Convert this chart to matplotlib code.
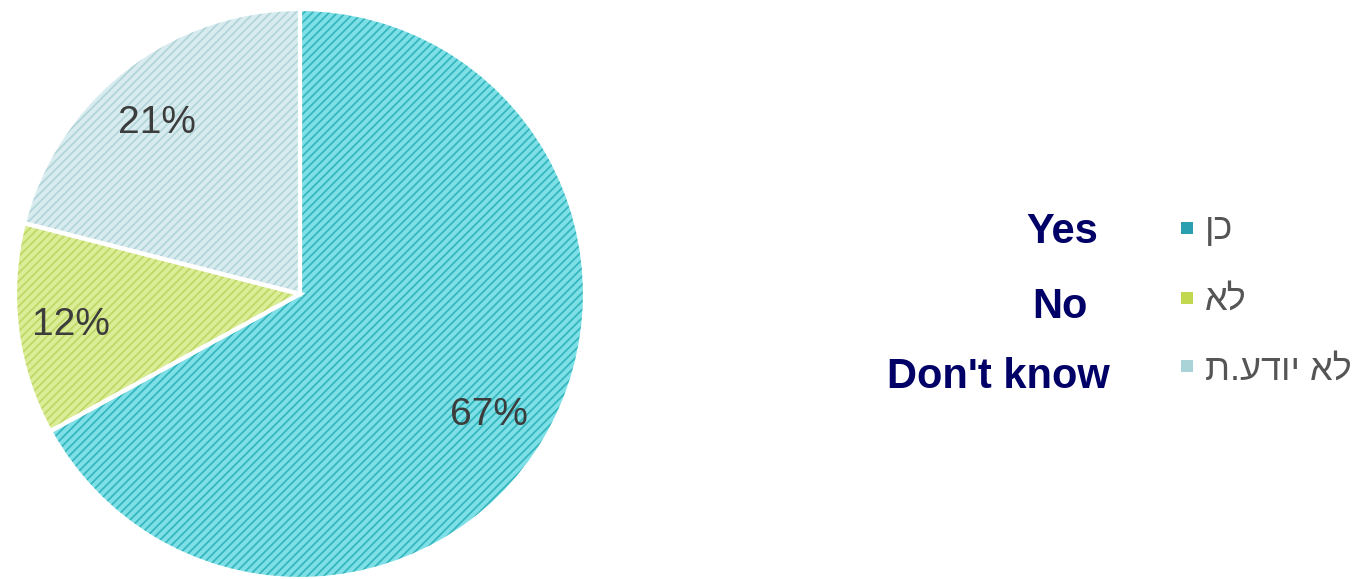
import matplotlib
matplotlib.use("Agg")
import matplotlib.pyplot as plt
from matplotlib.patches import Rectangle

# Survey answers
categories_en = ["Yes", "No", "Don't know"]
categories_he = ["כן", "לא", "לא יודע.ת"]
shares = [67, 12, 21]
pct_labels = ["67%", "12%", "21%"]

face_colors = ["#7ee0e6", "#dbed96", "#d8ecef"]
hatch_colors = ["#36b6be", "#bfd868", "#b3d5da"]
swatch_colors = ["#2a9fb0", "#c2d84e", "#a9d3d6"]

W, H = 1355, 579
plt.rcParams["hatch.linewidth"] = 1.3
fig = plt.figure(figsize=(W / 100, H / 100), dpi=100)


def fx(px):
    return px / W


def fy(py):
    return 1 - py / H


# pie centred at (300, 294) px with radius 285 px
cx, cy, r = 300, 294, 285
ax = fig.add_axes([fx(cx - r), fy(cy + r), 2 * r / W, 2 * r / H])
wedges, _ = ax.pie(shares, startangle=90, counterclock=False,
                   colors=face_colors, wedgeprops=dict(linewidth=0))
for w, hc in zip(wedges, hatch_colors):
    w.set_hatch("////")
    w.set_edgecolor(hc)
    w.set_linewidth(0)
# white separators between slices
ax.pie(shares, startangle=90, counterclock=False,
       wedgeprops=dict(fill=False, edgecolor="white", linewidth=3))
ax.set_xlim(-1, 1)
ax.set_ylim(-1, 1)
ax.axis("off")

# percentage labels (left x, baseline y in px)
pct_pos = [(450, 425), (32, 335), (118, 133)]
for lab, (x, y) in zip(pct_labels, pct_pos):
    fig.text(fx(x), fy(y), lab, ha="left", va="baseline", fontsize=28,
             color="#3c3c3c", family=["Liberation Sans", "DejaVu Sans"])

# English annotations
en_pos = [(1098, 243), (1088, 318), (1110, 388)]
for lab, (x, y) in zip(categories_en, en_pos):
    fig.text(fx(x), fy(y), lab, ha="right", va="baseline", fontsize=30,
             fontweight="bold", color="#000066",
             family=["Liberation Sans", "DejaVu Sans"])

# Hebrew legend
leg_rows = [228, 298, 366]
leg_base = [239, 310, 380]
for lab, col, yc, yb in zip(categories_he, swatch_colors, leg_rows, leg_base):
    s = 12
    fig.patches.append(Rectangle((fx(1181), fy(yc + s / 2)), s / W, s / H,
                                 transform=fig.transFigure, color=col,
                                 linewidth=0))
    fig.text(fx(1205), fy(yb), lab[::-1], ha="left", va="baseline",
             fontsize=26, color="#555555",
             family=["Liberation Sans", "DejaVu Sans"])

fig.savefig("out.png", dpi=100)
